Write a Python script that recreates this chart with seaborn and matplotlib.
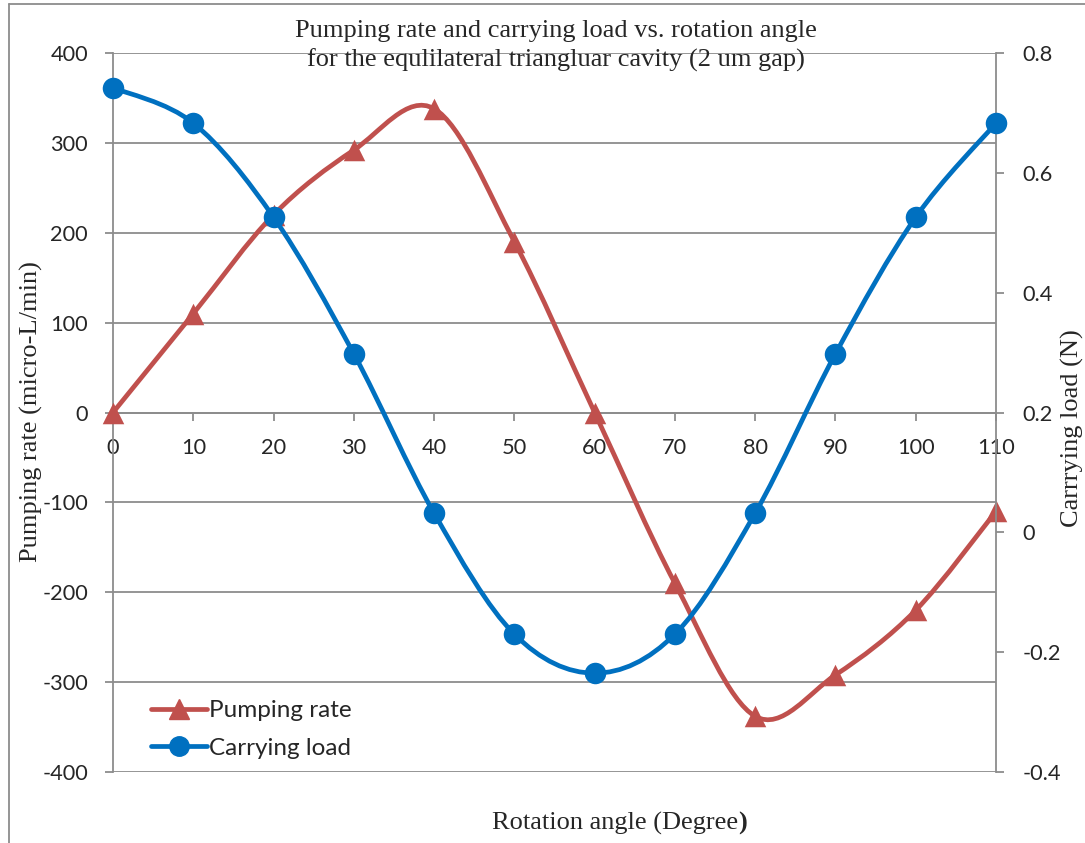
import numpy as np
import seaborn as sns
import matplotlib.pyplot as plt
from matplotlib.path import Path
from matplotlib.patches import PathPatch
from matplotlib.lines import Line2D

angle = [0, 10, 20, 30, 40, 50, 60, 70, 80, 90, 100, 110]
pumping_rate = [0, 110, 220, 292, 338, 190, 0, -190, -338, -292, -220, -110]
carrying_load = [0.742, 0.683, 0.526, 0.298, 0.032, -0.170, -0.235, -0.170,
                 0.032, 0.298, 0.526, 0.683]

RED = "#C0504D"
BLUE = "#0070C0"
GRID = "#8C8C8C"


def smooth_path(x, y):
    # Excel-like smoothed line: cubic bezier through the points
    p = np.column_stack([x, y]).astype(float)
    n = len(p)
    verts = [p[0]]
    codes = [Path.MOVETO]
    for i in range(n - 1):
        p0 = p[i - 1] if i > 0 else p[i]
        p3 = p[i + 2] if i + 2 < n else p[i + 1]
        c1 = p[i] + (p[i + 1] - p0) / 6
        c2 = p[i + 1] - (p3 - p[i]) / 6
        verts += [c1, c2, p[i + 1]]
        codes += [Path.CURVE4] * 3
    return Path(verts, codes)


sns.set_style("white")
plt.rcParams['font.family'] = ['Lato', 'DejaVu Sans']
plt.rcParams['axes.unicode_minus'] = False

fig = plt.figure(figsize=(10.85, 8.43), dpi=100)
ax = fig.add_axes([113 / 1085, 1 - 772 / 843, (996 - 113) / 1085, (772 - 53) / 843])
ax2 = ax.twinx()

# left axis: pumping rate
ax.add_patch(PathPatch(smooth_path(angle, pumping_rate), fill=False,
                       edgecolor=RED, lw=3.4, capstyle="round", zorder=3))
sns.scatterplot(x=angle, y=pumping_rate, ax=ax, marker="^", s=240,
                color=RED, edgecolor=RED, linewidth=0, zorder=4, legend=False,
                clip_on=False)

# right axis: carrying load
ax2.add_patch(PathPatch(smooth_path(angle, carrying_load), fill=False,
                        edgecolor=BLUE, lw=3.4, capstyle="round", zorder=3))
sns.scatterplot(x=angle, y=carrying_load, ax=ax2, marker="o", s=240,
                color=BLUE, edgecolor=BLUE, linewidth=0, zorder=4, legend=False,
                clip_on=False)

ax.set_xlim(0, 110)
ax.set_ylim(-400, 400)
ax2.set_ylim(-0.4, 0.8)
ax.set_xticks(range(0, 111, 10))
ax.set_yticks(range(-400, 401, 100))
right_ticks = np.round(np.arange(-0.4, 0.81, 0.2), 1)
ax2.set_yticks(right_ticks)
ax2.set_yticklabels([f"{v:g}" for v in right_ticks])

ax.grid(axis="y", color=GRID, lw=1.3)
ax.grid(axis="x", visible=False)
ax2.grid(False)

for a in (ax, ax2):
    a.spines["top"].set_visible(False)
    for s in a.spines.values():
        s.set_color(GRID)
        s.set_linewidth(1.3)
ax.spines["bottom"].set_position(("data", 0))
ax.spines["right"].set_visible(False)
ax2.spines["left"].set_visible(False)
ax2.spines["bottom"].set_visible(False)

ax.tick_params(axis="y", direction="out", length=6, width=1.3, color=GRID,
               labelsize=15.7, left=True, pad=12)
ax.tick_params(axis="x", direction="out", length=6, width=1.3, color=GRID,
               labelsize=15.7, bottom=True, pad=12)
ax2.tick_params(axis="y", direction="out", length=6, width=1.3, color=GRID,
                labelsize=15.7, right=True, pad=13)

serif = ["Liberation Serif", "DejaVu Serif"]
fig.text(738 / 1085, 1 - 823 / 843, "Rotation angle (Degree", ha="right",
         va="center", fontsize=19, family=serif)
fig.text(738 / 1085, 1 - 823 / 843, ")", ha="left", va="center", fontsize=19,
         family=serif, fontweight="bold")
fig.text(31 / 1085, 1 - 412 / 843, "Pumping rate (micro-L/min)", ha="center",
         va="center", rotation=90, fontsize=19, family=serif)
fig.text(1072 / 1085, 1 - 428 / 843, "Carrrying load (N)", ha="center",
         va="center", rotation=90, fontsize=19, family=serif)
fig.text(556 / 1085, 1 - 46 / 843,
         "Pumping rate and carrying load vs. rotation angle\n"
         "for the equlilateral triangluar cavity (2 um gap)",
         ha="center", va="center", fontsize=19, family=serif, linespacing=1.38)

handles = [
    Line2D([], [], color=RED, lw=3.4, marker="^", markersize=15, label="Pumping rate"),
    Line2D([], [], color=BLUE, lw=3.4, marker="o", markersize=14, label="Carrying load"),
]
leg = ax2.legend(handles=handles, loc="lower left", bbox_to_anchor=(0.018, -0.012),
                 frameon=False, fontsize=17.5, handlelength=2.3, handletextpad=0.1,
                 labelspacing=0.68)

# outer chart border
fig.add_artist(Line2D([9 / 1085, 9 / 1085], [0, 1 - 4 / 843], color=GRID, lw=1.3))
fig.add_artist(Line2D([9 / 1085, 1], [1 - 4 / 843, 1 - 4 / 843], color=GRID, lw=1.3))

plt.savefig("out.png", dpi=100)
